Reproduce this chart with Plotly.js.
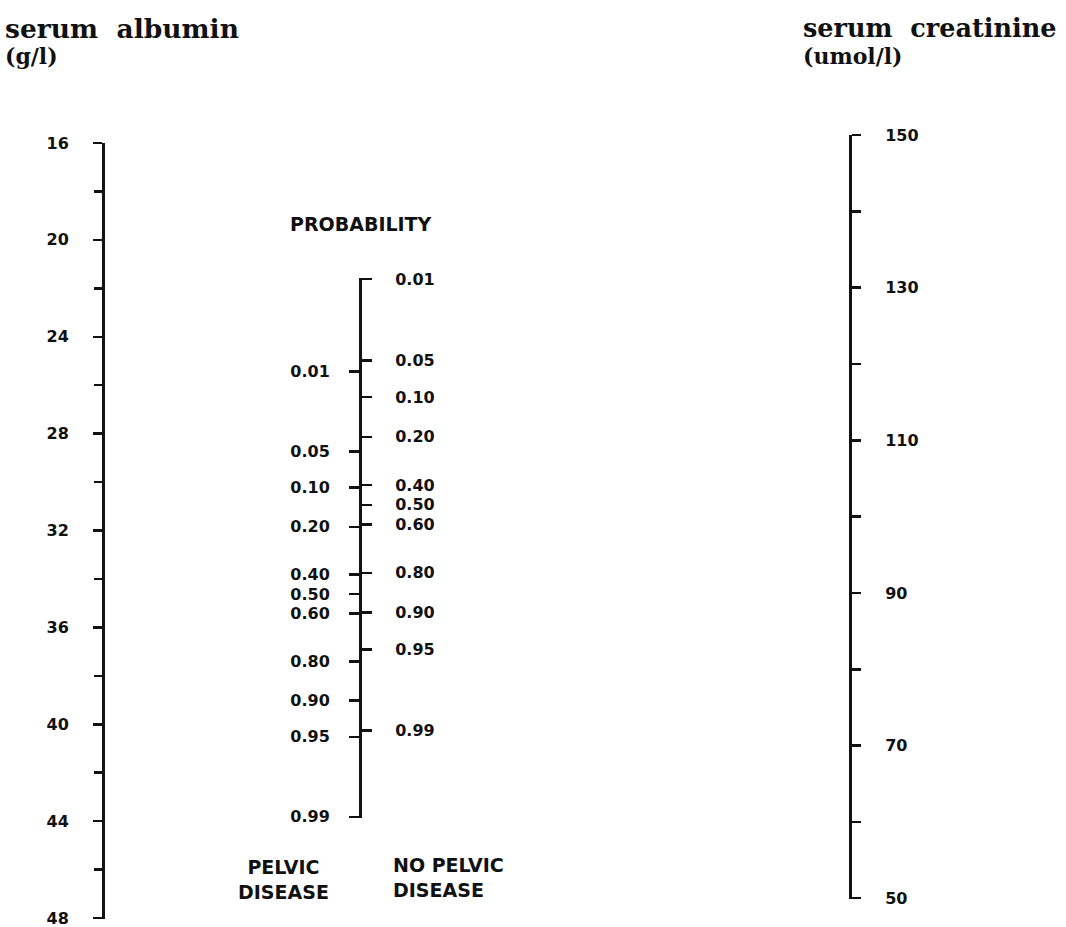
<!DOCTYPE html>
<html>
<head>
<meta charset="utf-8">
<script src="https://cdn.plot.ly/plotly-3.0.1.min.js"></script>
<style>html,body{margin:0;padding:0;background:#fff;}#chart{width:1066px;height:927px;}</style>
</head>
<body>
<div id="chart"></div>
<script>
// ---- data ----
const albuminMajor = [16, 20, 24, 28, 32, 36, 40, 44, 48];
const albuminMinor = [18, 22, 26, 30, 34, 38, 42, 46];
const creatinineMajor = [50, 70, 90, 110, 130, 150];
const creatinineMinor = [60, 80, 100, 120, 140];
const pelvicProbs = [0.01, 0.05, 0.10, 0.20, 0.40, 0.50, 0.60, 0.80, 0.90, 0.95, 0.99];
const noPelvicProbs = [0.01, 0.05, 0.10, 0.20, 0.40, 0.50, 0.60, 0.80, 0.90, 0.95, 0.99];

// ---- helpers (scale transform, layout positions) ----
const W = 1066, H = 927;
const logit = p => Math.log(p / (1 - p));
const px = x => x / W;
const py = y => 1 - y / H;

const tickFont = {family: 'DejaVu Sans', size: 16, color: '#111', weight: 'bold'};
const axBase = {
  anchor: 'free', showline: true, linecolor: '#111', linewidth: 3,
  ticks: 'outside', tickcolor: '#111', tickwidth: 2.5, ticklen: 9,
  showgrid: false, zeroline: false, tickmode: 'array', tickfont: tickFont,
  ticklabeloverflow: 'allow', fixedrange: true
};

const pelvicVals = pelvicProbs.map(logit);
const noPelvicVals = noPelvicProbs.map(logit);

function ghost(yvals, yaxis) {
  return {type: 'scatter', mode: 'markers', x: yvals.map(() => 0.5), y: yvals,
    yaxis: yaxis, xaxis: 'x', marker: {opacity: 0}, hoverinfo: 'skip', showlegend: false};
}

const data = [
  ghost(albuminMajor, 'y'),
  ghost(creatinineMajor, 'y2'),
  ghost(pelvicVals, 'y3'),
  ghost(noPelvicVals, 'y4')
];

const layout = {
  width: W, height: H,
  margin: {l: 0, r: 0, t: 0, b: 0},
  paper_bgcolor: '#fff', plot_bgcolor: 'rgba(0,0,0,0)',
  showlegend: false,
  xaxis: {domain: [0, 1], range: [0, 1], visible: false, fixedrange: true},
  yaxis: Object.assign({}, axBase, {
    domain: [py(919), py(143)], range: [48.04, 16], position: px(103), side: 'left',
    tickvals: albuminMajor, ticktext: albuminMajor.map(String), ticklabelstandoff: 21,
    minor: {tickvals: albuminMinor, ticks: 'outside', ticklen: 8, tickwidth: 2.5, tickcolor: '#111'}
  }),
  yaxis2: Object.assign({}, axBase, {
    domain: [py(899), py(135)], range: [49.9, 150], position: px(850), side: 'right',
    tickvals: creatinineMajor, ticktext: creatinineMajor.map(String), ticklabelstandoff: 21,
    minor: {tickvals: creatinineMinor, ticks: 'outside', ticklen: 9, tickwidth: 2.5, tickcolor: '#111'}
  }),
  yaxis3: Object.assign({}, axBase, {
    domain: [py(818), py(278)], range: [4.62, -6.52], position: px(360), side: 'left',
    tickvals: pelvicVals, ticktext: pelvicProbs.map(p => p.toFixed(2)), ticklabelstandoff: 16, ticklen: 10
  }),
  yaxis4: Object.assign({}, axBase, {
    domain: [py(818), py(278)], range: [6.38, -4.62], position: px(360), side: 'right',
    tickvals: noPelvicVals, ticktext: noPelvicProbs.map(p => p.toFixed(2)), ticklabelstandoff: 20, ticklen: 10
  }),
  annotations: [
    {text: '<b>serum\u00a0 albumin</b>', x: px(3), y: py(28), xanchor: 'left', yanchor: 'middle',
     font: {family: 'DejaVu Serif', size: 26.5, color: '#111'}},
    {text: '<b>(g/l)</b>', x: px(3), y: py(56), xanchor: 'left', yanchor: 'middle',
     font: {family: 'DejaVu Serif', size: 22, color: '#111'}},
    {text: '<b>serum\u00a0 creatinine</b>', x: px(801), y: py(28), xanchor: 'left', yanchor: 'middle',
     font: {family: 'DejaVu Serif', size: 25.5, color: '#111'}},
    {text: '<b>(umol/l)</b>', x: px(801), y: py(56), xanchor: 'left', yanchor: 'middle',
     font: {family: 'DejaVu Serif', size: 22, color: '#111'}},
    {text: '<b>PROBABILITY</b>', x: px(361), y: py(224), xanchor: 'center', yanchor: 'middle',
     font: {family: 'DejaVu Sans', size: 19, color: '#111'}},
    {text: '<b>PELVIC<br>DISEASE</b>', x: px(283), y: py(879), xanchor: 'center', yanchor: 'middle', align: 'center',
     font: {family: 'DejaVu Sans', size: 19, color: '#111'}},
    {text: '<b>NO PELVIC<br>DISEASE</b>', x: px(391), y: py(877), xanchor: 'left', yanchor: 'middle', align: 'left',
     font: {family: 'DejaVu Sans', size: 19, color: '#111'}}
  ].map(a => Object.assign({xref: 'paper', yref: 'paper', showarrow: false}, a))
};

Plotly.newPlot('chart', data, layout, {displayModeBar: false, staticPlot: true});
</script>
</body>
</html>
